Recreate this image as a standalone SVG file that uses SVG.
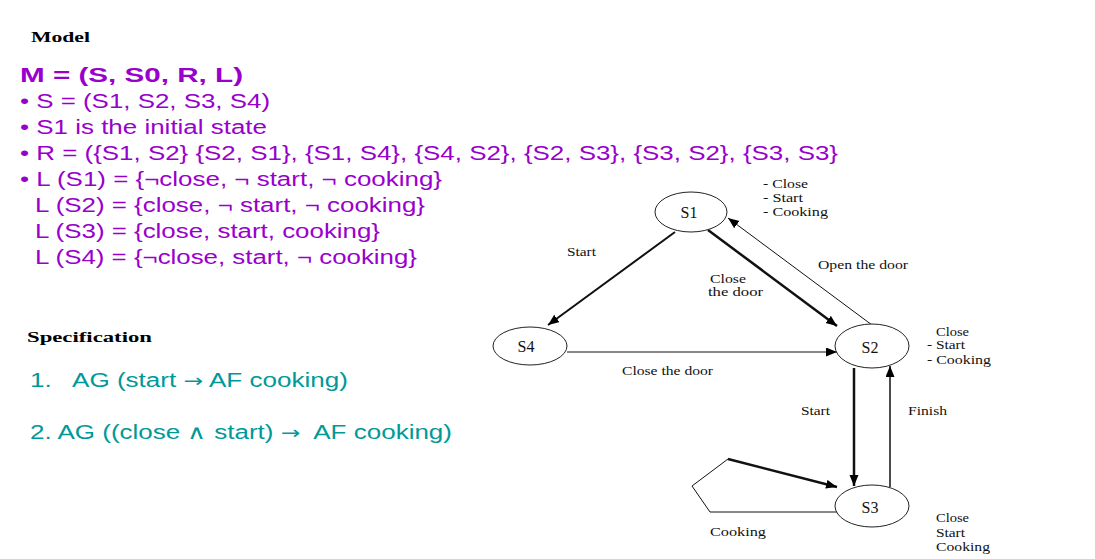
<svg xmlns="http://www.w3.org/2000/svg" width="1095" height="559" viewBox="0 0 1095 559">
<style>
.hd{font-family:"Liberation Serif",serif;font-weight:bold;font-size:15px;fill:#000}
.pu{font-family:"Liberation Sans",Arial,sans-serif;font-size:20px;fill:#9900CC}
.pb{font-family:"Liberation Sans",Arial,sans-serif;font-size:21px;font-weight:bold;fill:#9900CC}
.te{font-family:"Liberation Sans",Arial,sans-serif;font-size:20px;fill:#009999;white-space:pre}
.ar{font-family:"DejaVu Sans",sans-serif;font-size:18px}
.lb{font-family:"Liberation Serif",serif;font-size:12px;fill:#111}
.nt{font-family:"Liberation Serif",serif;font-size:16px;fill:#111;text-anchor:middle}
.nd{fill:#fff;stroke:#222;stroke-width:1}
.ed{fill:none;stroke:#111}
</style>
<defs>
<marker id="ah" markerUnits="userSpaceOnUse" markerWidth="12" markerHeight="10" refX="11" refY="4.5" orient="auto">
<path d="M0,0 L11,4.5 L0,9 z" fill="#000"/>
</marker>
</defs>
<rect width="1095" height="559" fill="#fff"/>
<g id="text">
<text class="hd" x="31" y="42" textLength="59" lengthAdjust="spacingAndGlyphs">Model</text>
<text class="pb" x="20" y="82" textLength="223" lengthAdjust="spacingAndGlyphs">M = (S, S0, R, L)</text>
<text class="pu" x="20" y="108" textLength="250" lengthAdjust="spacingAndGlyphs">• S = (S1, S2, S3, S4)</text>
<text class="pu" x="20" y="134" textLength="247" lengthAdjust="spacingAndGlyphs">• S1 is the initial state</text>
<text class="pu" x="20" y="160" textLength="818" lengthAdjust="spacingAndGlyphs">• R = ({S1, S2} {S2, S1}, {S1, S4}, {S4, S2}, {S2, S3}, {S3, S2}, {S3, S3}</text>
<text class="pu" x="20" y="186" textLength="422" lengthAdjust="spacingAndGlyphs">• L (S1) = {¬close, ¬ start, ¬ cooking}</text>
<text class="pu" x="35" y="212" textLength="390" lengthAdjust="spacingAndGlyphs">L (S2) = {close, ¬ start, ¬ cooking}</text>
<text class="pu" x="35" y="238" textLength="345" lengthAdjust="spacingAndGlyphs">L (S3) = {close, start, cooking}</text>
<text class="pu" x="35" y="264" textLength="382" lengthAdjust="spacingAndGlyphs">L (S4) = {¬close, start, ¬ cooking}</text>
<text class="hd" x="27" y="342" textLength="125" lengthAdjust="spacingAndGlyphs">Specification</text>
<text class="te" x="30" y="387" textLength="318" lengthAdjust="spacingAndGlyphs" xml:space="preserve">1.   AG (start <tspan class="ar">→</tspan> AF cooking)</text>
<text class="te" x="30" y="439" textLength="422" lengthAdjust="spacingAndGlyphs" xml:space="preserve">2. AG ((close ∧ start) <tspan class="ar">→</tspan>  AF cooking)</text>
</g>
<g id="connectors">
<line class="ed" x1="675" y1="232" x2="548" y2="325" stroke-width="2" marker-end="url(#ah)"/>
<line class="ed" x1="708" y1="230" x2="837" y2="326" stroke-width="2.5" marker-end="url(#ah)"/>
<line class="ed" x1="872" y1="325" x2="728" y2="218" stroke-width="1" marker-end="url(#ah)"/>
<line class="ed" x1="567" y1="352" x2="837" y2="352" stroke-width="1.2" marker-end="url(#ah)"/>
<line class="ed" x1="854" y1="368" x2="854" y2="486" stroke-width="2.5" marker-end="url(#ah)"/>
<line class="ed" x1="890" y1="487" x2="890" y2="366" stroke-width="1.5" marker-end="url(#ah)"/>
<polyline class="ed" points="837,512 710,512 692,486 728,459" stroke-width="1"/>
<line class="ed" x1="728" y1="459" x2="837" y2="487" stroke-width="2.5" marker-end="url(#ah)"/>
<text class="lb" x="567" y="256" textLength="29" lengthAdjust="spacingAndGlyphs">Start</text>
<text class="lb" x="710" y="283" textLength="36" lengthAdjust="spacingAndGlyphs">Close</text>
<text class="lb" x="708" y="296" textLength="55" lengthAdjust="spacingAndGlyphs">the door</text>
<text class="lb" x="818" y="269" textLength="90" lengthAdjust="spacingAndGlyphs">Open the door</text>
<text class="lb" x="622" y="375" textLength="91" lengthAdjust="spacingAndGlyphs">Close the door</text>
<text class="lb" x="801" y="415" textLength="29" lengthAdjust="spacingAndGlyphs">Start</text>
<text class="lb" x="908" y="415" textLength="39" lengthAdjust="spacingAndGlyphs">Finish</text>
<text class="lb" x="710" y="536" textLength="56" lengthAdjust="spacingAndGlyphs">Cooking</text>
</g>
<g id="S1">
<ellipse class="nd" cx="691" cy="212" rx="36" ry="20"/>
<text class="nt" x="689" y="218">S1</text>
<text class="lb" x="763" y="188" textLength="45" lengthAdjust="spacingAndGlyphs">- Close</text>
<text class="lb" x="763" y="202" textLength="40" lengthAdjust="spacingAndGlyphs">- Start</text>
<text class="lb" x="763" y="216" textLength="65" lengthAdjust="spacingAndGlyphs">- Cooking</text>
</g>
<g id="S4">
<ellipse class="nd" cx="530" cy="346" rx="37" ry="19"/>
<text class="nt" x="526" y="352">S4</text>
</g>
<g id="S2">
<ellipse class="nd" cx="872" cy="346" rx="37" ry="22"/>
<text class="nt" x="870" y="353">S2</text>
<text class="lb" x="936" y="336" textLength="33" lengthAdjust="spacingAndGlyphs">Close</text>
<text class="lb" x="927" y="349" textLength="38" lengthAdjust="spacingAndGlyphs">- Start</text>
<text class="lb" x="927" y="364" textLength="64" lengthAdjust="spacingAndGlyphs">- Cooking</text>
</g>
<g id="S3">
<ellipse class="nd" cx="872" cy="506" rx="37" ry="21"/>
<text class="nt" x="870" y="513">S3</text>
<text class="lb" x="936" y="522" textLength="33" lengthAdjust="spacingAndGlyphs">Close</text>
<text class="lb" x="936" y="537" textLength="29" lengthAdjust="spacingAndGlyphs">Start</text>
<text class="lb" x="936" y="551" textLength="54" lengthAdjust="spacingAndGlyphs">Cooking</text>
</g>
</svg>
